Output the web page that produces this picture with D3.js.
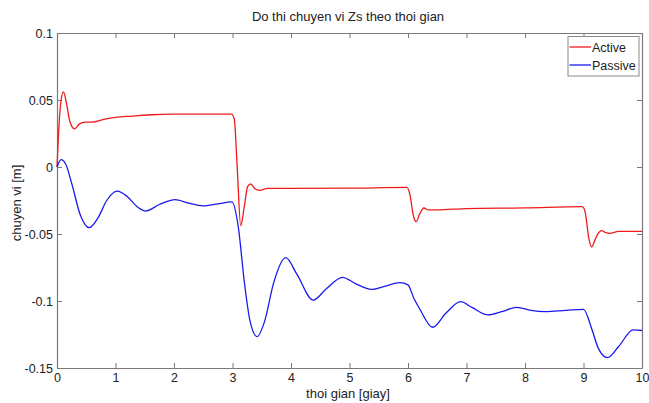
<!DOCTYPE html>
<html>
<head>
<meta charset="utf-8">
<script src="https://cdn.jsdelivr.net/npm/d3@7"></script>
<style>
  body { margin: 0; background: #fff; }
  text { font-family: "Liberation Sans", Arial, sans-serif; fill: #222; }
</style>
</head>
<body>
<div class="box"></div>
<script>
// data
let tActive = [0, 0.03, 0.07, 0.11, 0.16, 0.22, 0.3, 0.38, 0.48, 0.6, 0.8, 1.0, 1.3, 1.6, 2.0, 2.5, 2.98,
  3.03, 3.08, 3.14, 3.2, 3.26, 3.31, 3.38, 3.46, 3.6, 4.0, 5.0, 5.98,
  6.03, 6.09, 6.14, 6.2, 6.27, 6.35, 6.5, 7.0, 8.0, 8.98,
  9.03, 9.09, 9.14, 9.2, 9.26, 9.31, 9.38, 9.45, 9.6, 10]
let vActive = [0, 0.028, 0.05, 0.056, 0.048, 0.034, 0.0285, 0.032, 0.0335, 0.0335, 0.0355, 0.037, 0.038, 0.039, 0.0395, 0.0395, 0.0395,
  0.036, 0.0, -0.0438, -0.03, -0.0145, -0.0127, -0.016, -0.0174, -0.016, -0.016, -0.0158, -0.0152,
  -0.02, -0.036, -0.0408, -0.035, -0.0306, -0.032, -0.032, -0.031, -0.0305, -0.0296,
  -0.034, -0.053, -0.0595, -0.054, -0.049, -0.0475, -0.049, -0.0495, -0.048, -0.048]

let tPassive = [0, 0.07, 0.15, 0.25, 0.4, 0.55, 0.7, 0.85, 1.03, 1.2, 1.38, 1.52, 1.75, 2.02, 2.25, 2.5, 2.75, 2.99,
  3.1, 3.2, 3.3, 3.42, 3.55, 3.7, 3.91, 4.1, 4.38, 4.6, 4.88, 5.1, 5.38, 5.6, 5.86, 6.0,
  6.1, 6.21, 6.42, 6.65, 6.9, 7.1, 7.37, 7.6, 7.86, 8.1, 8.34, 8.7, 9.0,
  9.15, 9.25, 9.41, 9.6, 9.85, 10]
let vPassive = [0, 0.0055, 0.002, -0.012, -0.036, -0.0453, -0.038, -0.025, -0.018, -0.022, -0.030, -0.0328, -0.028, -0.0243, -0.027, -0.029, -0.0275, -0.026,
  -0.045, -0.085, -0.115, -0.1266, -0.115, -0.087, -0.0677, -0.08, -0.0993, -0.091, -0.0823, -0.087, -0.0913, -0.089, -0.0863, -0.088,
  -0.098, -0.1067, -0.1196, -0.109, -0.1005, -0.105, -0.1104, -0.108, -0.1047, -0.107, -0.108, -0.107, -0.1062,
  -0.122, -0.135, -0.1423, -0.134, -0.1216, -0.122]

let xTicks = [0, 1, 2, 3, 4, 5, 6, 7, 8, 9, 10]
let yTicks = [0.1, 0.05, 0, -0.05, -0.1, -0.15]
let yTickLabels = ["0.1", "0.05", "0", "-0.05", "-0.1", "-0.15"]

let seriesNames = ["Active", "Passive"]
let seriesColors = ["#f01a1a", "#1a1aee"]

let W = 649, H = 403
let m = {l: 57, r: 7, t: 33, b: 35}
let axcol = "#7a7a7a"

let svg = d3.select('.box')
  .append("svg")
  .attr("width", W)
  .attr("height", H)

let x = d3.scaleLinear().domain([0, 10]).range([m.l, W - m.r])
let y = d3.scaleLinear().domain([-0.15, 0.1]).range([H - m.b, m.t])

let styleAxis = (g) => {
  g.selectAll("path").attr("stroke", axcol).attr("stroke-width", 1.2)
  g.selectAll("line").attr("stroke", axcol)
  g.selectAll("text").style("font-family", '"Liberation Sans", Arial, sans-serif')
    .style("font-size", "12.5px").attr("fill", "#222")
}

// white plot area
svg.append("rect")
  .attr("x", x(0)).attr("y", y(0.1))
  .attr("width", x(10) - x(0)).attr("height", y(-0.15) - y(0.1))
  .attr("fill", "#fff")

// axes, ticks pointing inward like matlab
svg.append("g")
  .attr("transform", `translate(0,${y(-0.15)})`)
  .call(d3.axisBottom(x).tickValues(xTicks).tickFormat(d => d).tickSizeInner(-5).tickSizeOuter(0).tickPadding(5))
  .call(styleAxis)

svg.append("g")
  .attr("transform", `translate(0,${y(0.1)})`)
  .call(d3.axisTop(x).tickValues(xTicks).tickFormat("").tickSizeInner(-5).tickSizeOuter(0))
  .call(styleAxis)

svg.append("g")
  .attr("transform", `translate(${x(0)},0)`)
  .call(d3.axisLeft(y).tickValues(yTicks).tickFormat((d, i) => yTickLabels[i]).tickSizeInner(-5).tickSizeOuter(0).tickPadding(4))
  .call(styleAxis)

svg.append("g")
  .attr("transform", `translate(${x(10)},0)`)
  .call(d3.axisRight(y).tickValues(yTicks).tickFormat("").tickSizeInner(-5).tickSizeOuter(0))
  .call(styleAxis)

// lines
let line = d3.line()
  .x(d => x(d[0]))
  .y(d => y(d[1]))
  .curve(d3.curveMonotoneX)

let series = [
  d3.zip(tActive, vActive),
  d3.zip(tPassive, vPassive)
]

series.forEach((s, i) => {
  svg.append("path")
    .datum(s)
    .attr("d", line)
    .attr("fill", "none")
    .attr("stroke", seriesColors[i])
    .attr("stroke-width", 1.3)
})

// labels
svg.append("text")
  .attr("x", 348).attr("y", 21)
  .attr("text-anchor", "middle")
  .style("font-size", "13px")
  .text("Do thi chuyen vi Zs theo thoi gian")

svg.append("text")
  .attr("x", 348).attr("y", 398)
  .attr("text-anchor", "middle")
  .style("font-size", "13px")
  .text("thoi gian [giay]")

svg.append("text")
  .attr("transform", "translate(21,203) rotate(-90)")
  .attr("text-anchor", "middle")
  .style("font-size", "13px")
  .text("chuyen vi [m]")

// legend
let lg = svg.append("g").attr("transform", "translate(568,36.5)")
lg.append("rect")
  .attr("width", 71).attr("height", 39.5)
  .attr("fill", "#fff")
  .attr("stroke", "#8a8a8a")
  .attr("stroke-width", 1)

seriesNames.forEach((n, i) => {
  let yy = 10.5 + i * 18
  lg.append("line")
    .attr("x1", 1.5).attr("x2", 23)
    .attr("y1", yy).attr("y2", yy)
    .attr("stroke", seriesColors[i])
    .attr("stroke-width", 1.3)
  lg.append("text")
    .attr("x", 24).attr("y", yy + 5)
    .style("font-size", "12.5px")
    .text(n)
})
</script>
</body>
</html>
